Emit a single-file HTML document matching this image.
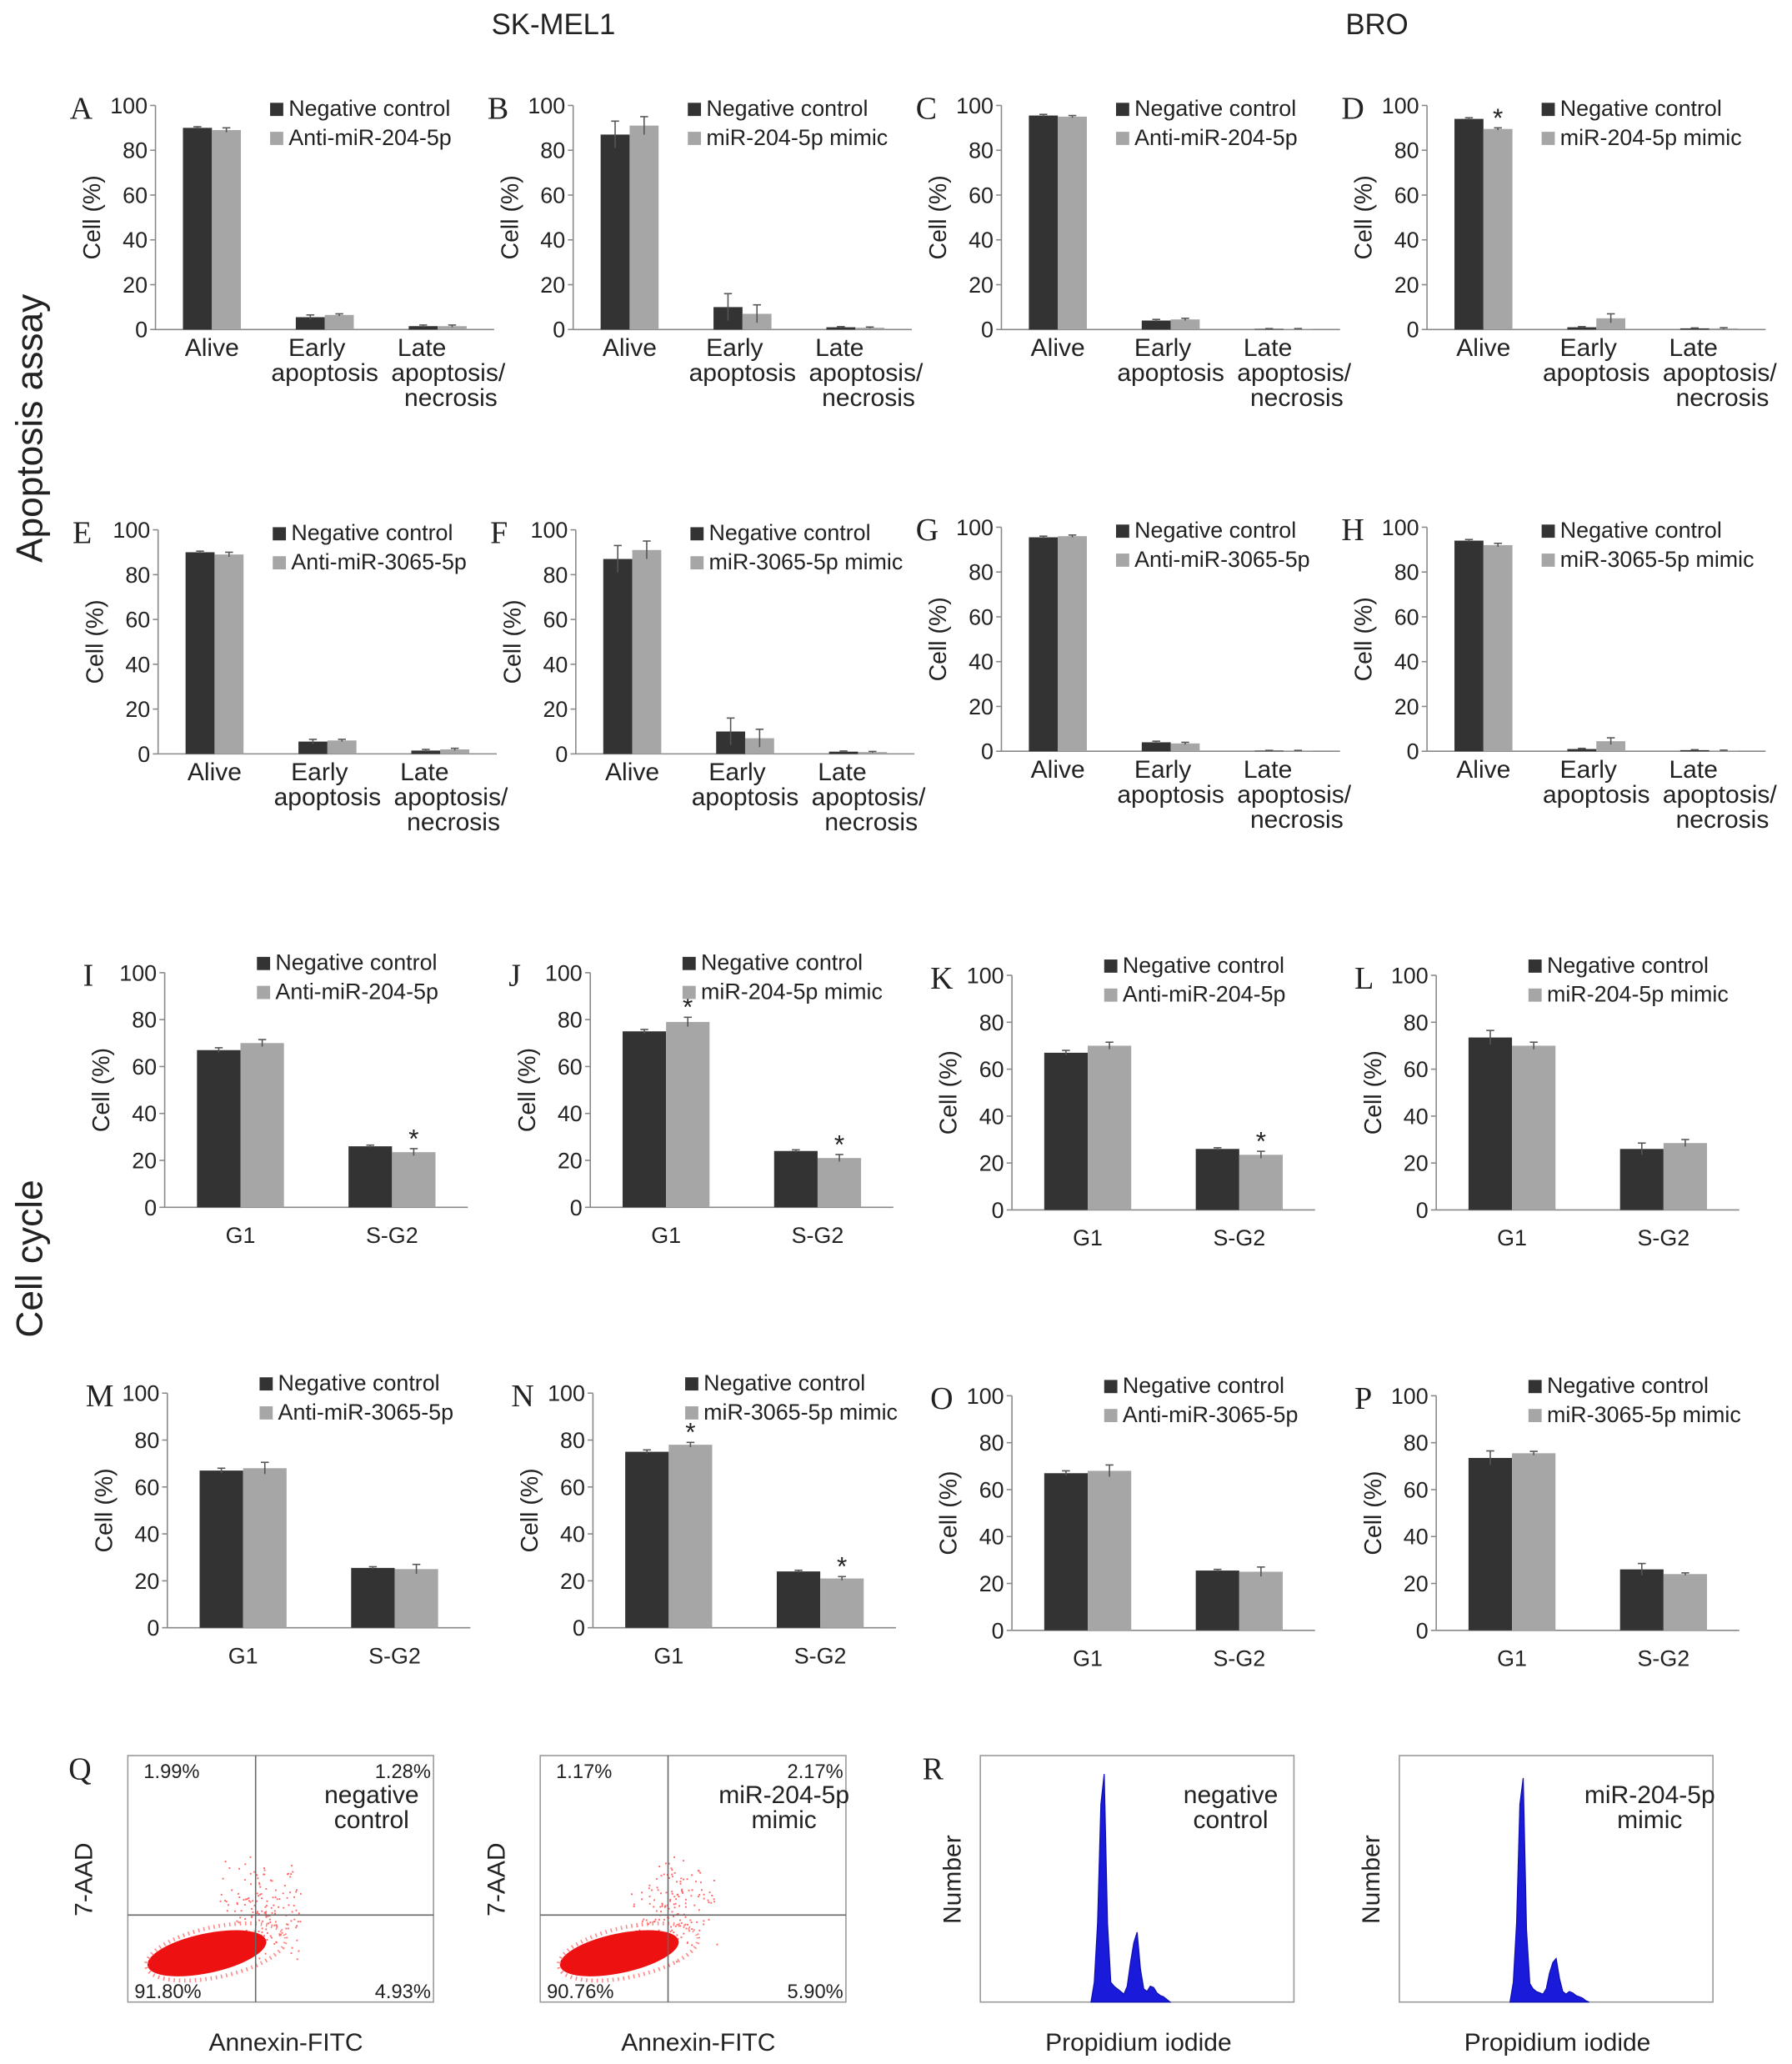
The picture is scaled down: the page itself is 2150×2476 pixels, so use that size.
<!DOCTYPE html>
<html><head><meta charset="utf-8"><style>
html,body{margin:0;padding:0;background:#fff}
svg{display:block}
text{font-family:"Liberation Sans",Arial,sans-serif;fill:#222}
.let{font-family:"Liberation Serif",serif;font-size:24px}
</style></head><body>
<svg id="fig" width="2150" height="2476" viewBox="0 0 1360 1566" preserveAspectRatio="none" xmlns="http://www.w3.org/2000/svg">
<text x="420" y="26" font-size="22" text-anchor="middle">SK-MEL1</text>
<text x="1045" y="26" font-size="22" text-anchor="middle">BRO</text>
<text transform="translate(32,325) rotate(-90)" font-size="28" text-anchor="middle">Apoptosis assay</text>
<text transform="translate(32,955) rotate(-90)" font-size="28" text-anchor="middle">Cell cycle</text>
<g id="charts"></g>
<g id="flow"></g>
</svg>
<script>
// ---- data ----
const apoCats = ["Alive","Early|apoptosis","Late|apoptosis/|necrosis"];
const ccCats = ["G1","S-G2"];
const letters = ["A","B","C","D","E","F","G","H","I","J","K","L","M","N","O","P"];
const ctrlVals = [[90,5.5,1.5],[87,10,1],[95.5,4,0.3],[94,1,0.5],[90,5.5,1.5],[87,10,1],[95.5,4,0.3],[94,1,0.5],
 [67,26],[75,24],[67,26],[73.5,26],[67,25.5],[75,24],[67,25.5],[73.5,26]];
const treatVals = [[89,6.5,1.5],[91,7,0.8],[95,4.5,0.3],[89.5,5,0.5],[89,6,2],[91,7,0.8],[96,3.5,0.3],[92,4.5,0.3],
 [70,23.5],[79,21],[70,23.5],[70,28.5],[68,25],[78,21],[68,25],[75.5,24]];
const ctrlErr = [[0.5,1,0.5],[6,6,0.3],[0.5,0.5,0.1],[0.5,0.3,0.2],[0.5,1,0.5],[6,6,0.3],[0.5,0.5,0.1],[0.5,0.3,0.2],
 [1,0.5],[0.8,0.5],[1,0.5],[3,2.5],[1,0.5],[0.8,0.5],[1,0.5],[3,2.5]];
const treatErr = [[1,0.5,0.5],[4,4,0.3],[0.5,0.5,0.1],[0.5,2,0.3],[1,0.5,0.5],[4,4,0.3],[0.5,0.5,0.1],[0.8,1.5,0.2],
 [1.5,1.5],[2,1.5],[1.5,1.5],[1.5,1.5],[2.5,2],[1,0.8],[2.5,2],[0.8,0.5]];
const stars = [[],[],[],[0],[],[],[],[],[1],[0,1],[1],[],[],[0,1],[],[]];
const legend2 = ["Anti-miR-204-5p","miR-204-5p mimic","Anti-miR-204-5p","miR-204-5p mimic",
 "Anti-miR-3065-5p","miR-3065-5p mimic","Anti-miR-3065-5p","miR-3065-5p mimic",
 "Anti-miR-204-5p","miR-204-5p mimic","Anti-miR-204-5p","miR-204-5p mimic",
 "Anti-miR-3065-5p","miR-3065-5p mimic","Anti-miR-3065-5p","miR-3065-5p mimic"];
const yTicks = [0,20,40,60,80,100];
const histA = [0,15,60,150,173,60,15,12,10,8,6,12,30,45,53,25,10,8,12,11,7,5,4,2,0];
const histB = [0,15,60,150,170,55,14,10,8,7,6,10,22,30,33,18,8,6,8,7,5,4,3,1,0];

// layout
const axX = [118,435,760,1083, 120,437,760,1083, 125,448,768,1090, 127,450,768,1090];
const topY = [80,80,80,80, 402,402,400,400, 738,738,740,740, 1057,1057,1059,1059];
const NS="http://www.w3.org/2000/svg";
const root=document.getElementById('charts');
function mk(tag,attrs,parent){const e=document.createElementNS(NS,tag);for(const k in attrs)e.setAttribute(k,attrs[k]);(parent||root).appendChild(e);return e;}
function txt(s,attrs,parent){const e=mk('text',attrs,parent);e.textContent=s;return e;}

for(let p=0;p<16;p++){
  const apo=p<8, cats=apo?apoCats:ccCats;
  const x0=axX[p], y0=topY[p], h=apo?170:178, w=apo?257:230;
  const g=mk('g',{});
  
  
  const yS=v=>y0+h-v/100*h;
  const band=w/cats.length, bw=apo?22:33;
  const xC=i=>x0+band*(i+0.5);
  const lt=txt(letters[p],{x:x0-(apo?65:62),y:y0+10,class:'let'},g);
  
  
  yTicks.forEach(t=>{
    const tl=txt(t,{x:x0-6,y:yS(t)+6,'font-size':17,'text-anchor':'end'},g);
    
    
    mk('line',{x1:x0-4,x2:x0,y1:yS(t),y2:yS(t),stroke:'#888'},g);
  });
  mk('line',{x1:x0,x2:x0,y1:y0,y2:y0+h,stroke:'#888'},g);
  mk('line',{x1:x0,x2:x0+w,y1:y0+h,y2:y0+h,stroke:'#888'},g);
  const yl=txt('Cell (%)',{transform:`translate(${x0-42},${y0+h/2}) rotate(-90)`,'font-size':18,'text-anchor':'middle'},g);
  
  
  cats.forEach((c,i)=>{
    [[ctrlVals,ctrlErr,'#333',-1],[treatVals,treatErr,'#a6a6a6',0]].forEach(([vals,errs,col,off],s)=>{
      const v=vals[p][i], e=errs[p][i], bx=xC(i)+off*bw;
      const r=mk('rect',{x:bx,y:yS(v),width:bw,height:yS(0)-yS(v),fill:col},g);
      
      
      const cx=bx+bw/2;
      mk('line',{x1:cx,x2:cx,y1:yS(v+e),y2:yS(Math.max(0,v-e)),stroke:'#555'},g);
      mk('line',{x1:cx-3,x2:cx+3,y1:yS(v+e),y2:yS(v+e),stroke:'#555'},g);
      if(s===1&&stars[p].includes(i)){const st=txt('*',{x:cx,y:yS(v+e)-1,'font-size':20,'text-anchor':'middle'},g);
        
        }
    });
    c.split('|').forEach((ln,j)=>{
      const dx=(apo&&i===2)?(j===0?-12:j===1?8:10):(apo&&i===1&&j===0?-6:0);
      const cl=txt(ln,{x:xC(i)+dx,y:y0+h+(apo?20:27)+j*19,'font-size':apo?19:17,'text-anchor':'middle'},g);
      
      
    });
  });
  const lx=x0+(apo?87:70), ly=y0+(apo?4:-6);
  [['Negative control','#333'],[legend2[p],'#a6a6a6']].forEach(([s,c],k)=>{
    mk('rect',{x:lx,y:ly+k*22-6,width:10,height:10,fill:c},g);
    const le=txt(s,{x:lx+14,y:ly+k*22+4,'font-size':17},g);
    
    
  });
}

// ---- flow panels ----
const fl=document.getElementById('flow');
const boxes=[[97,"1.99%","1.28%","91.80%","4.93%","negative|control"],[410,"1.17%","2.17%","90.76%","5.90%","miR-204-5p|mimic"]];
boxes.forEach(([bx,a,b,c,d,lab],k)=>{
  const g=mk('g',{},fl);
  
  
  if(k===0)txt('Q',{x:52,y:1350,class:'let'},g);
  mk('rect',{x:bx,y:1332,width:232,height:187,fill:'#fff',stroke:'#999'},g);
  const qx=bx+97, qy=1453;
  let seed=7+k;const rnd=()=>{seed=(seed*16807)%2147483647;return seed/2147483647;};
  for(let i=0;i<160;i++){const x=qx-30+(rnd()+rnd())*35, y=qy-45+(rnd()+rnd())*40;
    mk('rect',{x:x,y:y,width:1.2,height:1.2,fill:'#f66'},g);}
  mk('ellipse',{cx:qx-37,cy:qy+29,rx:46,ry:15,fill:'#ee1111',transform:`rotate(-12 ${qx-37} ${qy+29})`},g);
  mk('ellipse',{cx:qx-30,cy:qy+28,rx:54,ry:19,fill:'none',stroke:'#f88','stroke-width':3,'stroke-dasharray':'1 3',transform:`rotate(-12 ${qx-30} ${qy+28})`},g);
  mk('line',{x1:qx,x2:qx,y1:1332,y2:1519,stroke:'#666'},g);
  mk('line',{x1:bx,x2:bx+232,y1:qy,y2:qy,stroke:'#666'},g);
  txt(a,{x:bx+12,y:1349,'font-size':15},g);txt(b,{x:bx+230,y:1349,'font-size':15,'text-anchor':'end'},g);
  txt(c,{x:bx+5,y:1516,'font-size':15},g);txt(d,{x:bx+230,y:1516,'font-size':15,'text-anchor':'end'},g);
  lab.split('|').forEach((s,j)=>txt(s,{x:bx+185,y:1368+j*19,'font-size':19,'text-anchor':'middle'},g));
  txt('7-AAD',{transform:`translate(${bx-27},1426) rotate(-90)`,'font-size':19,'text-anchor':'middle'},g);
  txt('Annexin-FITC',{x:bx+120,y:1556,'font-size':19,'text-anchor':'middle'},g);
});
[[744,histA,"negative|control"],[1062,histB,"miR-204-5p|mimic"]].forEach(([bx,hist,lab],k)=>{
  const g=mk('g',{},fl);
  
  
  if(k===0)txt('R',{x:700,y:1350,class:'let'},g);
  mk('rect',{x:bx,y:1332,width:238,height:187,fill:'#fff',stroke:'#999'},g);
  const x0=bx+84, dx=2.5, base=1519;
  let d=`M${x0},${base}`;
  hist.forEach((v,i)=>{d+=` L${x0+i*dx},${base-v}`;});
  d+=` L${x0+(hist.length-1)*dx},${base} Z`;
  const pa=mk('path',{d:d,fill:'#1a1adb',stroke:'#1010b0','stroke-width':0.8},g);
  
  
  lab.split('|').forEach((s,j)=>txt(s,{x:bx+190,y:1368+j*19,'font-size':19,'text-anchor':'middle'},g));
  txt('Number',{transform:`translate(${bx-15},1426) rotate(-90)`,'font-size':19,'text-anchor':'middle'},g);
  txt('Propidium iodide',{x:bx+120,y:1556,'font-size':19,'text-anchor':'middle'},g);
});
</script>
</body></html>
